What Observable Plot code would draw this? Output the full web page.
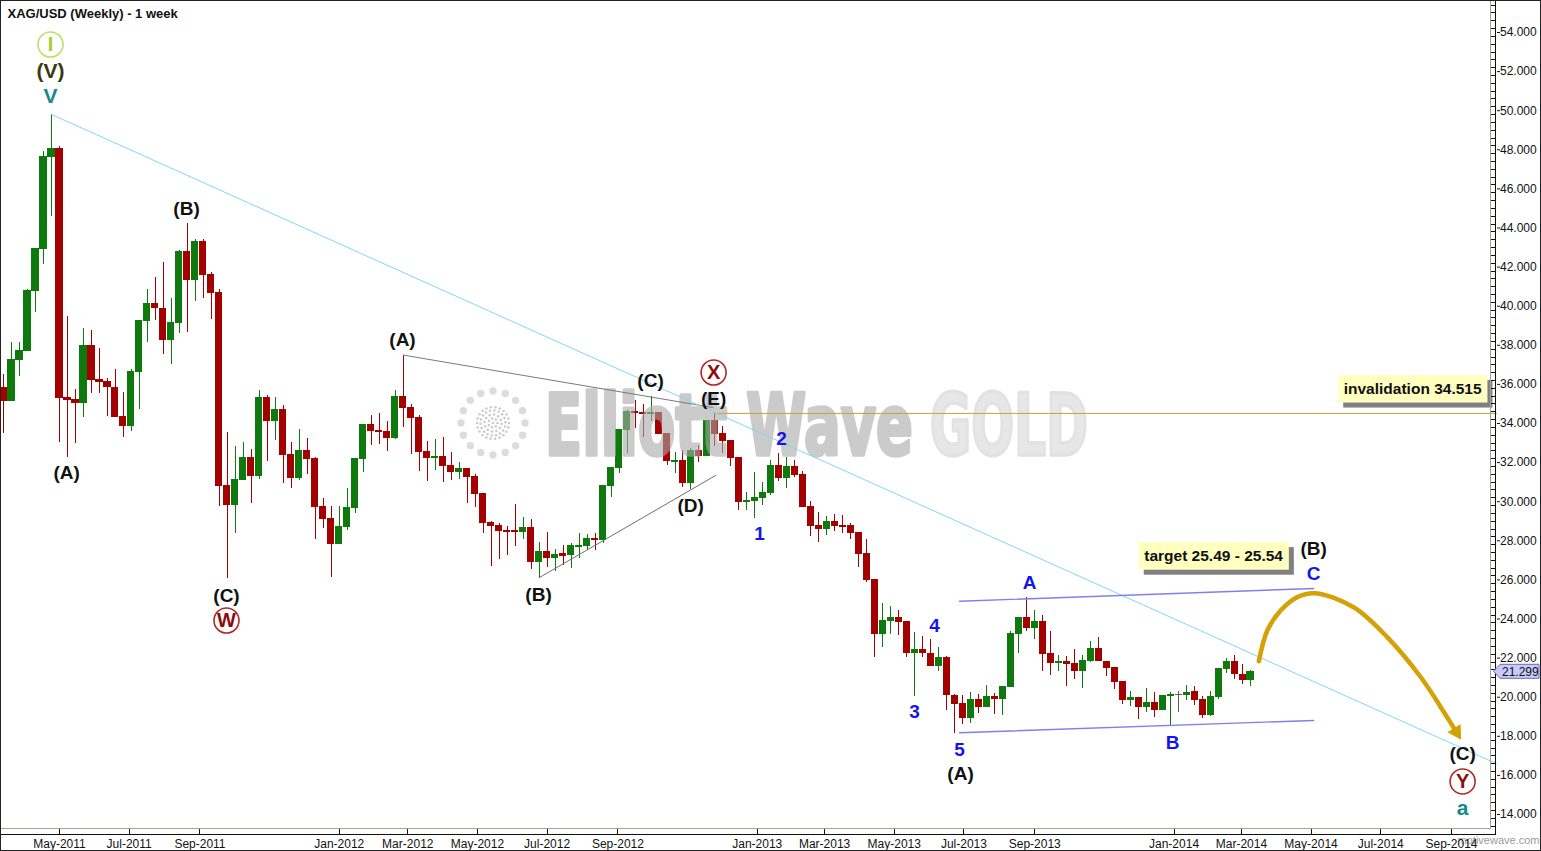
<!DOCTYPE html>
<html>
<head>
<meta charset="utf-8">
<script src="https://cdn.jsdelivr.net/npm/d3@7"></script>
<script src="https://cdn.jsdelivr.net/npm/@observablehq/plot@0.6"></script>
<style>
html,body{margin:0;padding:0;background:#fff;overflow:hidden;}
#chart svg{display:block;}
</style>
</head>
<body>
<div id="chart"></div>
<script>
// ---------------- DATA ----------------
const chartTitle = "XAG/USD (Weekly) - 1 week";
const firstWeek = "2011-03-13"; // weekly bars, one per week from this date

const open = [
35.82,35.14,37.27,37.73,40.80,42.92,47.62,48.02,35.30,35.20,
35.04,37.94,36.23,36.11,35.82,34.32,33.85,36.66,39.22,40.09,
39.88,38.26,39.13,42.75,41.35,43.26,41.62,40.67,30.78,29.81,
31.13,32.21,31.31,35.28,34.15,34.67,32.38,31.20,32.57,32.17,
29.72,29.11,27.84,28.73,29.70,32.16,33.90,33.64,33.54,33.25,
35.38,34.78,34.26,32.52,32.23,32.27,31.85,31.51,31.68,31.25,
30.39,28.90,28.75,28.50,28.48,28.45,28.66,26.91,27.45,27.11,
27.30,27.28,27.70,27.74,28.10,28.05,30.80,31.72,33.66,34.61,
34.53,34.48,34.53,33.45,32.03,32.07,30.95,32.57,32.33,34.12,
33.44,33.08,32.26,29.98,30.03,30.20,30.42,31.85,31.20,31.80,
31.39,29.75,28.75,28.60,28.94,28.75,28.75,28.38,27.30,25.97,
23.22,23.92,24.05,23.83,22.25,22.39,22.22,21.62,22.03,20.08,
19.63,18.93,19.88,19.49,20.00,19.92,20.51,23.21,24.04,23.53,
23.84,22.19,21.74,21.80,21.68,21.33,21.87,22.47,21.82,21.48,
20.77,19.86,19.95,19.49,19.69,19.37,20.04,20.12,20.12,20.29,
19.88,19.11,20.00,21.43,21.82,21.14,20.89];

const high = [
36.51,38.16,38.16,40.84,42.95,47.93,49.81,48.19,39.49,35.74,
38.88,38.76,37.85,36.32,36.76,35.60,36.76,39.25,40.85,41.49,
42.24,40.41,42.85,44.25,43.39,43.39,41.70,40.87,33.56,32.84,
33.03,32.67,35.69,35.42,35.33,34.90,33.03,33.69,33.23,32.26,
30.15,29.77,29.75,30.66,32.18,33.95,34.41,34.51,34.10,35.69,
37.50,34.97,34.41,33.08,33.19,33.29,32.50,32.00,31.70,31.40,
30.40,29.00,28.90,28.71,29.86,29.20,29.08,27.91,28.43,27.53,
27.78,27.87,28.36,28.30,28.36,30.83,31.75,33.68,34.65,35.18,
34.95,35.38,34.55,33.46,32.53,32.64,32.74,32.90,34.15,34.52,
33.85,33.10,32.28,30.45,31.50,30.99,32.10,32.45,32.25,32.11,
31.55,30.00,29.46,29.24,29.35,29.29,28.90,28.40,28.05,26.00,
24.81,24.64,24.44,23.85,23.33,23.11,22.96,22.53,22.08,20.16,
20.08,20.25,20.13,20.60,20.20,20.55,23.36,24.09,25.08,24.44,
24.20,23.36,22.14,22.09,22.44,22.14,22.84,23.05,21.84,21.50,
20.78,20.29,19.96,20.46,20.22,20.09,20.25,20.30,20.60,20.55,
20.03,20.29,21.48,22.00,22.15,21.69,21.38];

const low = [
33.51,35.10,36.42,37.70,39.70,42.13,44.59,33.05,32.28,32.96,
34.32,35.52,35.52,34.38,34.30,33.30,33.61,34.72,38.16,39.27,
37.51,37.00,38.62,38.67,40.26,40.38,39.30,29.75,26.05,28.39,
31.10,29.89,31.13,32.07,33.13,30.91,30.66,31.11,31.37,28.05,
28.65,26.10,27.80,28.52,29.41,31.51,32.89,32.94,32.59,33.20,
33.81,32.43,31.54,31.03,31.60,30.99,31.08,31.13,29.92,29.70,
28.39,26.70,27.04,27.23,27.71,28.06,26.55,26.11,26.61,26.43,
26.76,26.60,27.11,27.50,27.48,27.87,30.20,31.46,32.45,33.73,
33.30,34.10,33.43,31.85,31.46,30.74,30.60,31.98,32.30,32.84,
32.45,31.82,29.55,29.57,29.16,29.80,30.32,31.04,30.69,31.22,
29.73,28.24,27.93,28.27,28.48,28.39,28.07,26.62,25.88,22.01,
22.55,23.19,23.15,22.04,20.04,22.04,21.60,21.33,19.32,18.16,
18.61,18.68,19.18,19.45,19.12,19.07,20.48,22.25,23.34,22.96,
21.33,21.12,21.29,20.54,20.90,20.46,21.79,21.82,21.07,20.38,
19.65,19.52,18.84,19.23,18.98,19.35,18.52,19.23,19.83,19.58,
18.93,19.00,19.86,21.23,20.93,20.65,20.53];

const close = [
35.14,37.27,37.73,40.80,42.92,47.62,48.02,35.30,35.20,35.04,
37.94,36.23,36.11,35.86,34.32,33.85,36.66,39.22,40.09,39.92,
38.26,39.13,42.75,41.35,43.26,41.62,40.67,30.78,29.81,31.13,
32.21,31.31,35.28,34.15,34.67,32.38,31.20,32.57,32.17,29.72,
29.11,27.84,28.73,29.70,32.16,33.90,33.64,33.54,33.25,35.38,
34.78,34.26,32.52,32.23,32.27,31.85,31.51,31.68,31.25,30.39,
28.90,28.75,28.50,28.45,28.44,28.66,26.91,27.45,27.11,27.28,
27.24,27.74,27.74,28.10,28.05,30.80,31.72,33.66,34.61,34.53,
34.48,34.53,33.45,32.07,32.07,30.95,32.57,32.33,34.12,33.44,
33.08,32.26,29.98,30.03,30.20,30.42,31.85,31.22,31.80,31.39,
29.75,28.75,28.60,28.94,28.75,28.70,28.39,27.30,25.97,23.22,
23.92,24.05,23.83,22.25,22.39,22.27,21.62,22.03,20.10,19.63,
18.93,19.88,19.49,20.00,19.92,20.51,23.21,24.04,23.53,23.84,
22.19,21.74,21.80,21.71,21.33,21.87,22.47,21.84,21.48,20.77,
19.86,19.95,19.49,19.69,19.37,20.04,20.12,20.12,20.20,19.88,
19.11,20.00,21.43,21.82,21.17,20.89,21.299];

// axis ticks
const monthTicks = ["2011-05","2011-07","2011-09","2012-01","2012-03","2012-05","2012-07","2012-09",
  "2013-01","2013-03","2013-05","2013-07","2013-09","2014-01","2014-03","2014-05","2014-07","2014-09"];
const priceTicks = [14,16,18,20,22,24,26,28,30,32,34,36,38,40,42,44,46,48,50,52,54];

// annotation lines (x in week index from firstWeek, y in price)
const trendIdx = [6, 186.77],        trendPrice = [49.81, 16.60];
const acLineIdx = [50, 88.7],        acLinePrice = [37.50, 34.82];
const bdLineIdx = [67, 89.07],       bdLinePrice = [26.11, 31.34];
const chanUpIdx = [119.6, 163.9],    chanUpPrice = [24.91, 25.56];
const chanLoIdx = [119.6, 163.9],    chanLoPrice = [18.18, 18.81];
const invalidationLevel = 34.515,    invalidationFromIdx = 89;
const projIdx   = [157.04, 158.1, 159.76, 161.85, 164.1, 168.9, 173.1, 177.3, 179.8, 181.75];
const projPrice = [21.84, 23.41, 24.43, 25.12, 25.32, 24.6, 23.07, 21.02, 19.49, 18.22];

// wave labels
const labelText   = ["(V)","V","(A)","(B)","(C)","(A)","(B)","(C)","(E)","(D)","2","1","3","4","5","(A)","A","B","(B)","C","(C)","a"];
const labelIdx    = [5.875,5.875,7.887,22.89,27.89,49.91,66.93,80.94,88.83,85.95,97.33,94.58,113.97,116.47,119.6,119.72,128.35,146.25,163.89,163.89,182.53,182.53];
const labelPrice  = [52.005,50.726,31.494,45.00,25.202,38.297,25.253,36.20,35.279,29.806,33.233,28.373,19.269,23.668,17.325,16.097,25.867,17.683,27.606,26.327,17.12,14.31];
const labelDegree = ["cycle","primary","intermediate","intermediate","intermediate","intermediate","intermediate","intermediate","intermediate","intermediate",
  "minor","minor","minor","minor","minor","intermediate","minor","minor","intermediate","minor","intermediate","primary"];
const circledText  = ["I","W","X","Y"];
const circledIdx   = [5.875, 27.89, 88.83, 182.53];
const circledPrice = [53.386, 23.923, 36.61, 15.69];
const circledDegree = ["supercycle","primaryWXY","primaryWXY","primaryWXY"];

const boxText  = ["invalidation 34.515", "target 25.49 - 25.54"];
const boxIdx   = [176.28, 151.38];
const boxPrice = [35.75, 27.20];

// ---------------- BUILD ----------------
const DAY = 864e5;
const t0 = Date.parse(firstWeek);
const week = i => new Date(t0 + i * 7 * DAY);
const candles = open.map((o, i) => ({date: week(i), o, h: high[i], l: low[i], c: close[i]}));
const candleColor = d => d.c > d.o ? "#0e7a0e" : d.c < d.o ? "#a30000" : "#5c5c5c";
const seg = (idx, price) => idx.map((v, k) => ({date: week(v), price: price[k]}));

const degreeColor = {cycle: "#3a3a12", primary: "#178a8a", intermediate: "#111111", minor: "#1414ee",
  supercycle: "#9fd22a", primaryWXY: "#8e0b0b"};
const circleStroke = {supercycle: "#bedf6a", primaryWXY: "#b02a2a"};

const labels = labelText.map((t, i) => ({text: t, date: week(labelIdx[i]), price: labelPrice[i], degree: labelDegree[i]}));
const circled = circledText.map((t, i) => ({text: t, date: week(circledIdx[i]), price: circledPrice[i], degree: circledDegree[i]}));
const boxes = boxText.map((t, i) => ({text: t, date: week(boxIdx[i]), price: boxPrice[i]}));
const proj = seg(projIdx, projPrice);
const arrowHead = proj[proj.length - 1];

const xDomain = [week(-0.381), week(186.77)];
const yDomain = [12.926, 55.637];
const FONT = "'Liberation Sans', Arial, Helvetica, sans-serif";

const plot = Plot.plot({
  width: 1541, height: 851,
  marginLeft: 0, marginRight: 45, marginTop: 0, marginBottom: 16,
  x: {type: "utc", domain: xDomain},
  y: {domain: yDomain},
  color: {type: "identity"},
  style: {fontFamily: FONT, fontSize: "12px", background: "#fff", color: "#111"},
  marks: [
    Plot.ruleX(candles, {x: "date", y1: "l", y2: "h", stroke: candleColor, strokeWidth: 1, shapeRendering: "crispEdges"}),
    Plot.rect(candles, {x1: d => new Date(+d.date - 3.1 * DAY), x2: d => new Date(+d.date + 3.1 * DAY),
      y1: d => Math.min(d.o, d.c), y2: d => Math.max(d.o, d.c), fill: candleColor,
      insetTop: -0.5, insetBottom: -0.5, shapeRendering: "crispEdges"}),
    Plot.line(seg(acLineIdx, acLinePrice), {x: "date", y: "price", stroke: "#7a7a7a", strokeWidth: 1}),
    Plot.line(seg(bdLineIdx, bdLinePrice), {x: "date", y: "price", stroke: "#6f6f6f", strokeWidth: 1}),
    Plot.line(seg([invalidationFromIdx, 186.77], [invalidationLevel, invalidationLevel]), {x: "date", y: "price", stroke: "#c9a03a", strokeWidth: 1}),
    Plot.line(seg(trendIdx, trendPrice), {x: "date", y: "price", stroke: "#82d6f3", strokeWidth: 1}),
    Plot.line(seg(chanUpIdx, chanUpPrice), {x: "date", y: "price", stroke: "#7f7ff2", strokeWidth: 1.4}),
    Plot.line(seg(chanLoIdx, chanLoPrice), {x: "date", y: "price", stroke: "#7f7ff2", strokeWidth: 1.4}),
    Plot.line(proj, {x: "date", y: "price", curve: "catmull-rom", stroke: "#d4a106", strokeWidth: 4.5, strokeLinecap: "round"}),
    Plot.dot([arrowHead], {x: "date", y: "price", symbol: "triangle", r: 5.8, fill: "#d4a106", stroke: "none", rotate: 148}),
    Plot.dot(circled, {x: "date", y: "price", r: 12.5, fill: "#fff", stroke: d => circleStroke[d.degree], strokeWidth: 1.6}),
    Plot.text(circled, {x: "date", y: "price", text: "text", fill: d => degreeColor[d.degree], fontSize: 20, fontWeight: "bold", fontFamily: FONT}),
    Plot.text(labels.filter(d => d.degree === "intermediate"), {x: "date", y: "price", text: "text", fill: d => degreeColor[d.degree], fontSize: 19, fontWeight: "bold", fontFamily: FONT}),
    Plot.text(labels.filter(d => d.degree === "minor"), {x: "date", y: "price", text: "text", fill: d => degreeColor[d.degree], fontSize: 19, fontWeight: "bold", fontFamily: FONT}),
    Plot.text(labels.filter(d => d.degree === "cycle" || d.degree === "primary"), {x: "date", y: "price", text: "text", fill: d => degreeColor[d.degree], fontSize: 21, fontWeight: "bold", fontFamily: FONT}),
    Plot.text(boxes, {x: "date", y: "price", text: "text", fill: "#111", fontSize: 15.5, fontWeight: "bold", fontFamily: FONT}),
    Plot.text([chartTitle], {frameAnchor: "top-left", text: d => d, dx: 7, dy: 8, lineAnchor: "top", textAnchor: "start", fontSize: 13, fontWeight: "bold", fill: "#111"}),
    Plot.text(["motivewave.com"], {frameAnchor: "bottom-right", text: d => d, dx: 43, dy: 8, textAnchor: "end", fontSize: 11, fill: "#9a9a9a"}),
    Plot.axisY({ticks: priceTicks, anchor: "right", tickSize: 3, tickPadding: 0.5, tickFormat: d => d.toFixed(3), fontSize: 12}),
    Plot.axisX({ticks: monthTicks.map(s => new Date(Date.parse(s + "-01"))), anchor: "bottom", tickSize: 0, tickPadding: 3.5, tickFormat: d3.utcFormat("%b-%Y"), fontSize: 12})
  ]
});

document.getElementById("chart").appendChild(plot);

// ---------------- DECORATION ----------------
const svg = d3.select(plot);
const X = plot.scale("x"), Y = plot.scale("y");
const NS = "http://www.w3.org/2000/svg";

// boxes behind boxed labels
svg.selectAll("text").filter(function () { return boxText.includes(this.textContent); }).each(function () {
  const t = this, b = t.getBBox(), tr = t.getAttribute("transform");
  const g = d3.select(t.parentNode);
  const padX = 5.5, padY = 5.3;
  const sh = g.insert("rect", () => t).attr("x", b.x - padX + 5).attr("y", b.y - padY + 5)
    .attr("width", b.width + 2 * padX).attr("height", b.height + 2 * padY).attr("fill", "#808080").attr("stroke", "none");
  const bx = g.insert("rect", () => t).attr("x", b.x - padX).attr("y", b.y - padY)
    .attr("width", b.width + 2 * padX).attr("height", b.height + 2 * padY).attr("fill", "#ffffc0").attr("stroke", "none");
  if (tr) { sh.attr("transform", tr); bx.attr("transform", tr); }
});

// watermark (drawn over candles, under annotations)
const bodies = svg.selectAll('g[aria-label="rect"]').node();
const wmNode = document.createElementNS(NS, "g");
if (bodies) bodies.parentNode.insertBefore(wmNode, bodies.nextSibling); else plot.appendChild(wmNode);
const wm = d3.select(wmNode).attr("pointer-events", "none").attr("text-anchor", "start");
const cx = 493, cy = 423;
const logo = wm.append("g").attr("opacity", 0.8);
d3.range(16).forEach(k => {
  const a = k / 16 * 2 * Math.PI;
  logo.append("circle").attr("cx", cx + 32 * Math.cos(a)).attr("cy", cy + 32 * Math.sin(a)).attr("r", 3.7).attr("fill", "#d4d4d4");
});
[[0,1],[4.5,7],[8.5,12],[12.5,18],[16,22]].forEach(([rr, n]) => {
  d3.range(n).forEach(k => {
    const a = k / n * 2 * Math.PI + rr;
    logo.append("circle").attr("cx", cx + rr * Math.cos(a)).attr("cy", cy + rr * Math.sin(a)).attr("r", 1.25).attr("fill", "#bdbdbd");
  });
});
const wmFont = "'Liberation Sans Narrow','DejaVu Sans Condensed','Liberation Sans',Arial,sans-serif";
wm.append("text").attr("x", 545).attr("y", 455).attr("text-anchor", "start").attr("font-family", wmFont).attr("font-weight", "bold")
  .attr("font-size", 86).attr("textLength", 368).attr("lengthAdjust", "spacingAndGlyphs")
  .attr("fill", "#a9a9a9").attr("stroke", "#a9a9a9").attr("stroke-width", 3.5).attr("stroke-linejoin", "round")
  .attr("opacity", 0.6).text("Elliott Wave");
wm.append("text").attr("x", 930).attr("y", 455).attr("text-anchor", "start").attr("font-family", wmFont).attr("font-weight", "bold")
  .attr("font-size", 86).attr("textLength", 158).attr("lengthAdjust", "spacingAndGlyphs")
  .attr("fill", "#d8d8d8").attr("stroke", "#cfcfcf").attr("stroke-width", 3.5).attr("stroke-linejoin", "round")
  .attr("opacity", 0.6).text("GOLD");

// frame lines
const deco = svg.append("g").attr("text-anchor", "start");
deco.append("line").attr("x1", 0).attr("x2", 1491).attr("y1", 828.5).attr("y2", 828.5).attr("stroke", "#a6a293");
deco.append("line").attr("x1", 1490.5).attr("x2", 1490.5).attr("y1", 0).attr("y2", 829).attr("stroke", "#a6a293");
deco.append("line").attr("x1", 0).attr("x2", 1496).attr("y1", 834.5).attr("y2", 834.5).attr("stroke", "#111");
deco.append("line").attr("x1", 1495.5).attr("x2", 1495.5).attr("y1", 0).attr("y2", 835).attr("stroke", "#111");
deco.append("rect").attr("x", 0.5).attr("y", 0.5).attr("width", 1540).attr("height", 850).attr("fill", "none").attr("stroke", "#222");
// month ticks (upward into the gap)
monthTicks.forEach(s => {
  const x = Math.round(X.apply(new Date(Date.parse(s + "-01")))) + 0.5;
  deco.append("line").attr("x1", x).attr("x2", x).attr("y1", 829).attr("y2", 835).attr("stroke", "#111");
});
// price minor ticks (inward)
for (let v = 13.4; v < 55.6; v += 0.4) {
  const y = Math.round(Y.apply(v)) + 0.5;
  deco.append("line").attr("x1", 1491).attr("x2", 1496).attr("y1", y).attr("y2", y).attr("stroke", "#111");
}
// last price marker
const last = close[close.length - 1];
const ly = Y.apply(last);
deco.append("path").attr("d", `M1493.5,${ly} L1500,${ly - 7} L1539,${ly - 7} L1539,${ly + 7} L1500,${ly + 7} Z`)
  .attr("fill", "#c9c9fb").attr("stroke", "#6a6aa8").attr("stroke-width", 1);
deco.append("text").attr("x", 1502).attr("y", ly + 4.3).attr("text-anchor", "start").attr("font-family", FONT).attr("font-size", 12)
  .attr("fill", "#111").text(last.toFixed(3));
</script>
</body>
</html>
